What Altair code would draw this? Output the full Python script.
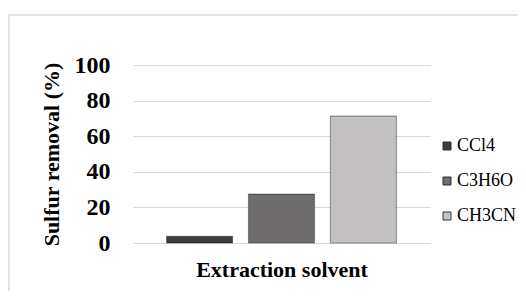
import altair as alt
import pandas as pd

solvents = ["CCl4", "C3H6O", "CH3CN"]
removal = [3.8, 27.5, 71.3]
colors = ["#3d3d3d", "#6f6d6d", "#c3c1c1"]

df = pd.DataFrame({"solvent": solvents, "removal": removal})
FONT = "Liberation Serif"

frame = alt.Chart(pd.DataFrame({"a": [0]})).mark_rect(
    fill=None, stroke="#d9d9d9", strokeWidth=1.5
).encode(
    x=alt.value(-124), x2=alt.value(400), y=alt.value(-50), y2=alt.value(240)
)

bars = alt.Chart(df).mark_bar(
    stroke="#000000", strokeOpacity=0.35, strokeWidth=1.2
).encode(
    x=alt.X("solvent:N", sort=solvents,
            scale=alt.Scale(paddingInner=0.195, paddingOuter=0.41),
            axis=alt.Axis(labels=False, ticks=False, domain=False,
                          title="Extraction solvent", titleFont=FONT,
                          titleFontSize=22, titleFontWeight="bold",
                          titleColor="#000000", titlePadding=16)),
    y=alt.Y("removal:Q", scale=alt.Scale(domain=[0, 100]),
            axis=alt.Axis(values=[0, 20, 40, 60, 80, 100], ticks=False,
                          domain=False, gridColor="#d9d9d9",
                          labelFont=FONT, labelFontSize=24,
                          labelFontWeight="bold", labelColor="#000000",
                          labelPadding=23,
                          title="Sulfur removal (%)", titleFont=FONT,
                          titleFontSize=22, titleFontWeight="bold",
                          titleColor="#000000", titlePadding=11)),
    color=alt.Color("solvent:N", sort=solvents,
                    scale=alt.Scale(domain=solvents, range=colors),
                    legend=alt.Legend(title=None, orient="none",
                                      legendX=305, legendY=72,
                                      symbolType="square", symbolSize=64,
                                      symbolStrokeColor="#333333",
                                      symbolStrokeWidth=1,
                                      labelFont=FONT, labelFontSize=18,
                                      labelColor="#000000", labelOffset=1,
                                      labelLimit=200,
                                      rowPadding=17)),
)

chart = alt.layer(frame, bars).properties(
    width=297, height=178,
    autosize=alt.AutoSizeParams(type="none"),
    padding={"left": 125, "top": 57, "right": 88, "bottom": 48},
).configure(font=FONT).configure_view(stroke=None)

chart.save("out.html", embed_options={"renderer": "svg", "actions": False})
